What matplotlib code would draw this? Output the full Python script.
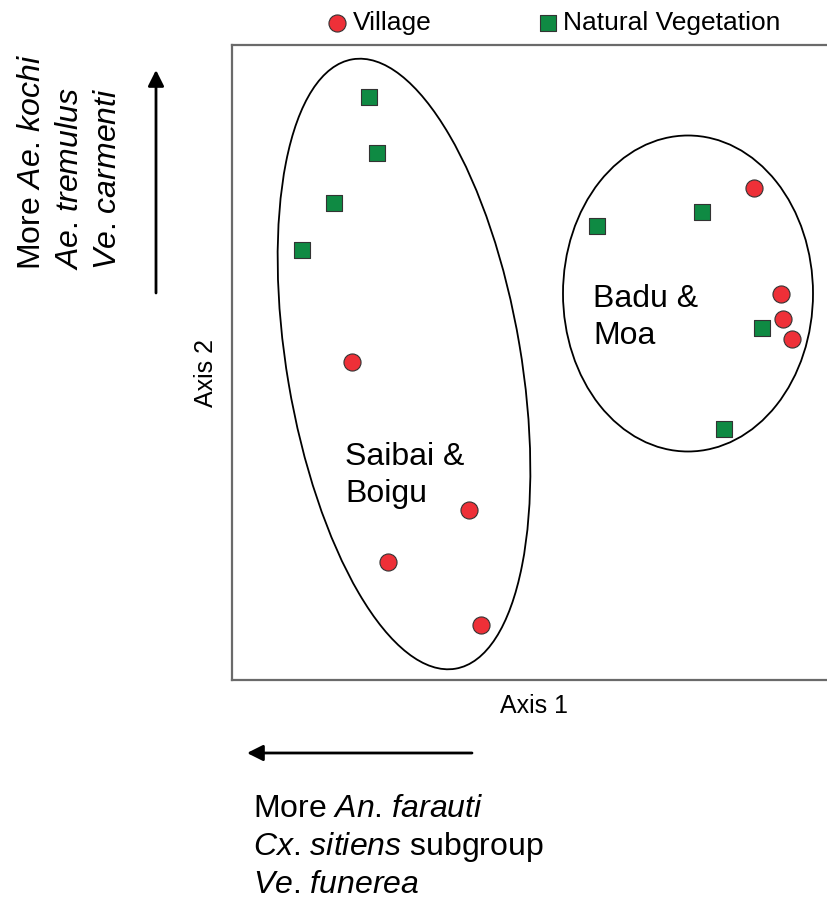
import matplotlib
matplotlib.use("Agg")
import matplotlib.pyplot as plt
from matplotlib.patches import Ellipse, FancyArrowPatch

plt.rcParams["font.family"] = ["Liberation Sans", "DejaVu Sans"]
plt.rcParams["mathtext.fontset"] = "custom"
plt.rcParams["mathtext.rm"] = "Liberation Sans"
plt.rcParams["mathtext.it"] = "Liberation Sans:italic"

# Ordination scores (Axis 1, Axis 2) for each trap site
village_x = [1.20, 5.22, 5.49, 5.51, 5.60, 2.37, 1.56, 2.49]
village_y = [3.18, 4.92, 3.86, 3.61, 3.41, 1.70, 1.18, 0.55]
veg_x = [1.37, 1.45, 1.02, 0.70, 3.65, 4.70, 5.30, 4.92]
veg_y = [5.83, 5.27, 4.77, 4.30, 4.54, 4.68, 3.52, 2.51]

# Island groupings: centre, width, height, rotation
group_names = ["Saibai &\nBoigu", "Badu &\nMoa"]
group_centre = [(1.72, 3.16), (4.56, 3.865)]
group_size = [(2.34, 6.18), (2.50, 3.16)]
group_angle = [9.6, 0.0]

series_labels = ["Village", "Natural Vegetation"]

W, H = 827, 900
fig = plt.figure(figsize=(W / 100, H / 100), dpi=100)


def fx(px):
    return px / W


def fy(py):
    return 1 - py / H


ax = fig.add_axes([fx(232), fy(680), (830 - 232) / W, 635 / H])
ax.set_xlim(0, 5.98)
ax.set_ylim(0, 6.35)
ax.set_xticks([])
ax.set_yticks([])
for side in ["left", "bottom", "top"]:
    ax.spines[side].set_color("#6a6a6a")
    ax.spines[side].set_linewidth(1.6)
ax.spines["right"].set_visible(False)

red = "#EE3038"
green = "#0F8A43"
edge = "#333333"

for (cx, cy), (w, h), ang in zip(group_centre, group_size, group_angle):
    ax.add_patch(Ellipse((cx, cy), w, h, angle=ang, fill=False,
                         edgecolor="black", linewidth=1.3, zorder=1))

h_vil = ax.scatter(village_x, village_y, s=12.3 ** 2, marker="o", c=red,
                   edgecolors=edge, linewidths=0.8, zorder=3,
                   label=series_labels[0])
h_veg = ax.scatter(veg_x, veg_y, s=11.3 ** 2, marker="s", c=green,
                   edgecolors=edge, linewidths=0.8, zorder=3,
                   label=series_labels[1])

big = 23

# Group labels inside the ellipses
for name, (lx, ly) in zip(group_names, [(1.13, 2.15), (3.61, 3.73)]):
    for i, line in enumerate(name.split("\n")):
        ax.text(lx, ly - i * 0.37, line, fontsize=big, ha="left",
                va="baseline", zorder=4)

# Legend across the top
fig.legend(handles=[h_vil, h_veg], labels=series_labels, loc="center left",
           bbox_to_anchor=(fx(329), fy(23)), ncol=2, frameon=False,
           fontsize=19, handlelength=0.6, handletextpad=0.3,
           columnspacing=4.1, borderpad=0, borderaxespad=0)

# Axis titles
fig.text(fx(534), fy(713), "Axis 1", fontsize=18, ha="center", va="baseline")
fig.text(fx(213), fy(373), "Axis 2", fontsize=18, rotation=90,
         rotation_mode="anchor", ha="center", va="baseline")

# Direction arrows
arrow = dict(arrowstyle="-|>", lw=2.0, color="black", mutation_scale=24,
             shrinkA=0, shrinkB=0)
fig.add_artist(FancyArrowPatch((fx(156), fy(293)), (fx(156), fy(70)),
                               transform=fig.transFigure, **arrow))
fig.add_artist(FancyArrowPatch((fx(472), fy(753)), (fx(247), fy(753)),
                               transform=fig.transFigure, **arrow))

# Species driving Axis 2 (upwards)
vert_lines = [r"More $\mathit{Ae}$. $\mathit{kochi}$",
              r"$\mathit{Ae}$. $\mathit{tremulus}$",
              r"$\mathit{Ve}$. $\mathit{carmenti}$"]
for i, line in enumerate(vert_lines):
    fig.text(fx(40.5 + 37.5 * i), fy(270), line, fontsize=big, rotation=90,
             rotation_mode="anchor", ha="left", va="baseline")

# Species driving Axis 1 (leftwards)
horiz_lines = [r"More $\mathit{An}$. $\mathit{farauti}$",
               r"$\mathit{Cx}$. $\mathit{sitiens}$ subgroup",
               r"$\mathit{Ve}$. $\mathit{funerea}$"]
for i, line in enumerate(horiz_lines):
    fig.text(fx(253), fy(817 + 38 * i), line, fontsize=big, ha="left",
             va="baseline")

fig.savefig("out.png", dpi=100, facecolor="white")
